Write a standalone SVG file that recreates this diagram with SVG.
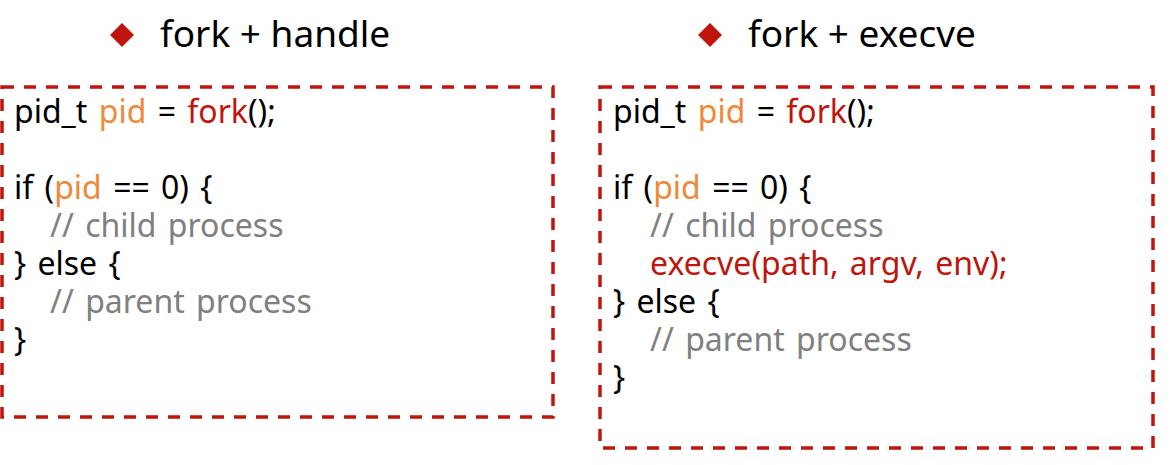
<svg xmlns="http://www.w3.org/2000/svg" width="1174" height="465" viewBox="0 0 1174 465">
<style>
text{font-family:"Noto Sans","Open Sans","DejaVu Sans",sans-serif;fill:#000;}
.code{font-size:32px;word-spacing:3px;}
.title{font-size:37px;}
.o{fill:#EE8A3A;}
.r{fill:#C0150C;}
.g{fill:#808080;}
.box{fill:none;stroke:#C0150C;stroke-width:3.5;stroke-dasharray:12 10;}
.dia{fill:#C0150C;}
</style>
<rect width="1174" height="465" fill="#fff"/>
<g id="left">
<path class="dia" d="M122 23 L134 35 L122 47 L110 35 Z"/>
<text class="title" x="160" y="47">fork + handle</text>
<rect class="box" x="2" y="87" width="551" height="330"/>
<text class="code" x="14" y="123">pid_t <tspan class="o">pid</tspan> = <tspan class="r">fork</tspan>();</text>
<text class="code" x="14" y="199">if (<tspan class="o">pid</tspan> == 0) {</text>
<text class="code g" x="50" y="237">// child process</text>
<text class="code" x="14" y="275">} else {</text>
<text class="code g" x="50" y="313">// parent process</text>
<text class="code" x="14" y="351">}</text>
</g>
<g id="right">
<path class="dia" d="M710 23 L722 35 L710 47 L698 35 Z"/>
<text class="title" x="748" y="47">fork + execve</text>
<rect class="box" x="600" y="87" width="553" height="361"/>
<text class="code" x="613" y="123">pid_t <tspan class="o">pid</tspan> = <tspan class="r">fork</tspan>();</text>
<text class="code" x="613" y="199">if (<tspan class="o">pid</tspan> == 0) {</text>
<text class="code g" x="650" y="237">// child process</text>
<text class="code r" x="650" y="275">execve(path, argv, env);</text>
<text class="code" x="613" y="313">} else {</text>
<text class="code g" x="650" y="351">// parent process</text>
<text class="code" x="613" y="389">}</text>
</g>
<g id="connectors"></g>
</svg>
